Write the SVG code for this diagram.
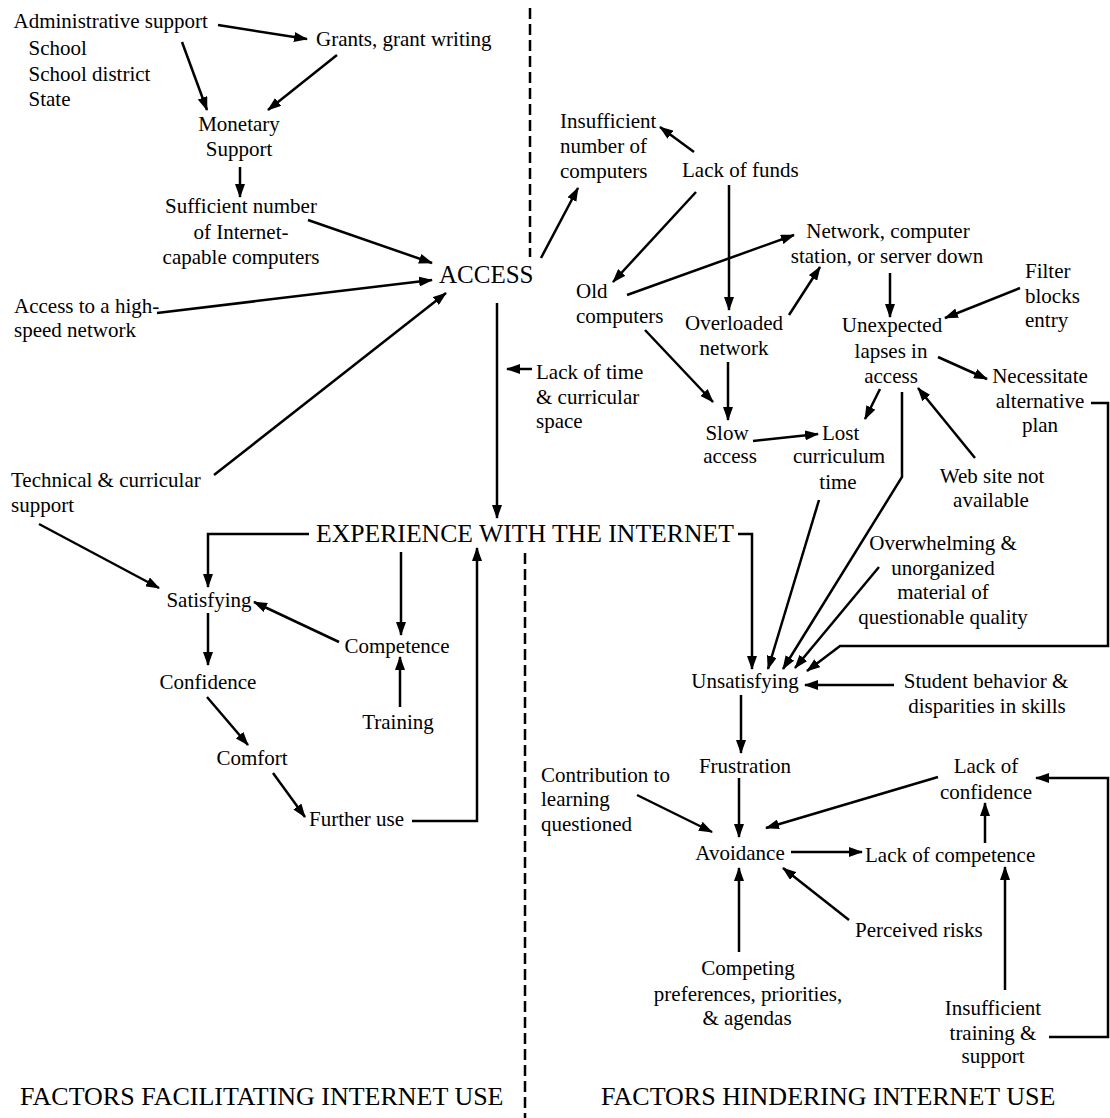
<svg xmlns="http://www.w3.org/2000/svg" width="1110" height="1118" viewBox="0 0 1110 1118">
<style>
text{font-family:"Liberation Serif","Times New Roman",serif;font-size:21px;fill:#000}
.big{font-size:26px}
.m{text-anchor:middle}
.c{fill:none;stroke:#000;stroke-width:2.5}
.d{fill:none;stroke:#000;stroke-width:2.5;stroke-dasharray:11 5}
</style>
<defs>
<marker id="ah" viewBox="0 0 14 10" refX="13" refY="5" markerWidth="14" markerHeight="10" markerUnits="userSpaceOnUse" orient="auto"><path d="M0,0 L14,5 L0,10 z" fill="#000"/></marker>
</defs>
<rect width="1110" height="1118" fill="#fff"/>
<g id="nodes">
<g id="n-admin"><text x="13.5" y="28">Administrative support</text><text x="28.5" y="55">School</text><text x="28.5" y="81">School district</text><text x="28.5" y="106">State</text></g>
<g id="n-grants"><text x="316" y="46">Grants, grant writing</text></g>
<g id="n-monetary"><text class="m" x="239" y="131">Monetary</text><text class="m" x="239" y="156">Support</text></g>
<g id="n-sufficient"><text class="m" x="241" y="213">Sufficient number</text><text class="m" x="241" y="239">of Internet-</text><text class="m" x="241" y="264">capable computers</text></g>
<g id="n-access"><text class="big" style="font-size:25px" x="439" y="283">ACCESS</text></g>
<g id="n-highspeed"><text x="14" y="313">Access to a high-</text><text x="14" y="337">speed network</text></g>
<g id="n-technical"><text x="11" y="487">Technical &amp; curricular</text><text x="11" y="512">support</text></g>
<g id="n-lacktime"><text x="536" y="379">Lack of time</text><text x="536" y="404">&amp; curricular</text><text x="536" y="428">space</text></g>
<g id="n-experience"><text class="big" style="font-size:25.7px" x="316" y="542">EXPERIENCE WITH THE INTERNET</text></g>
<g id="n-satisfying"><text class="m" x="209" y="607">Satisfying</text></g>
<g id="n-competence"><text class="m" x="397" y="653">Competence</text></g>
<g id="n-training"><text class="m" x="398" y="729">Training</text></g>
<g id="n-confidence"><text class="m" x="208" y="689">Confidence</text></g>
<g id="n-comfort"><text class="m" x="252" y="765">Comfort</text></g>
<g id="n-further"><text x="309" y="826">Further use</text></g>
<g id="n-insufficient"><text x="560" y="128">Insufficient</text><text x="560" y="153">number of</text><text x="560" y="178">computers</text></g>
<g id="n-lackfunds"><text x="682" y="177">Lack of funds</text></g>
<g id="n-old"><text x="576" y="298">Old</text><text x="576" y="323">computers</text></g>
<g id="n-network"><text class="m" x="888" y="238">Network, computer</text><text class="m" x="887" y="263">station, or server down</text></g>
<g id="n-overloaded"><text class="m" x="734" y="330">Overloaded</text><text class="m" x="734" y="355">network</text></g>
<g id="n-slow"><text class="m" x="727" y="440">Slow</text><text class="m" x="730" y="463">access</text></g>
<g id="n-lost"><text x="822" y="440">Lost</text><text class="m" x="839" y="463">curriculum</text><text class="m" x="838" y="489">time</text></g>
<g id="n-unexpected"><text class="m" x="892" y="332">Unexpected</text><text class="m" x="891" y="358">lapses in</text><text class="m" x="891" y="383">access</text></g>
<g id="n-filter"><text x="1025" y="278">Filter</text><text x="1025" y="303">blocks</text><text x="1025" y="327">entry</text></g>
<g id="n-necessitate"><text class="m" x="1040" y="383">Necessitate</text><text class="m" x="1040" y="408">alternative</text><text class="m" x="1040" y="432">plan</text></g>
<g id="n-website"><text class="m" x="992" y="483">Web site not</text><text class="m" x="991" y="507">available</text></g>
<g id="n-overwhelming"><text class="m" x="943" y="550">Overwhelming &amp;</text><text class="m" x="943" y="575">unorganized</text><text class="m" x="943" y="599">material of</text><text class="m" x="943" y="624">questionable quality</text></g>
<g id="n-unsatisfying"><text class="m" x="745" y="688">Unsatisfying</text></g>
<g id="n-student"><text class="m" x="986" y="688">Student behavior &amp;</text><text class="m" x="987" y="713">disparities in skills</text></g>
<g id="n-frustration"><text class="m" x="745" y="773">Frustration</text></g>
<g id="n-contribution"><text x="541" y="782">Contribution to</text><text x="541" y="806">learning</text><text x="541" y="831">questioned</text></g>
<g id="n-avoidance"><text class="m" x="740" y="860">Avoidance</text></g>
<g id="n-lackcompetence"><text x="865" y="862">Lack of competence</text></g>
<g id="n-lackconfidence"><text class="m" x="986" y="773">Lack of</text><text class="m" x="986" y="799">confidence</text></g>
<g id="n-perceived"><text x="855" y="937">Perceived risks</text></g>
<g id="n-competing"><text class="m" x="748" y="975">Competing</text><text class="m" x="748" y="1001">preferences, priorities,</text><text class="m" x="747" y="1025">&amp; agendas</text></g>
<g id="n-insuftraining"><text class="m" x="993" y="1015">Insufficient</text><text class="m" x="993" y="1040">training &amp;</text><text class="m" x="993" y="1063">support</text></g>
<g id="t-facilitating"><text class="big" x="20" y="1105">FACTORS FACILITATING INTERNET USE</text></g>
<g id="t-hindering"><text class="big" x="601" y="1105">FACTORS HINDERING INTERNET USE</text></g>
</g>
<g id="connectors">
<line class="d" x1="530" y1="8" x2="530" y2="257"/>
<line class="d" x1="525" y1="553" x2="525" y2="1118"/>
<line class="c" x1="218" y1="25" x2="307" y2="39" marker-end="url(#ah)"/>
<line class="c" x1="182" y1="42" x2="207" y2="110" marker-end="url(#ah)"/>
<line class="c" x1="337" y1="55" x2="268" y2="110" marker-end="url(#ah)"/>
<line class="c" x1="240" y1="167" x2="240" y2="197" marker-end="url(#ah)"/>
<line class="c" x1="308" y1="220" x2="432" y2="263" marker-end="url(#ah)"/>
<line class="c" x1="157" y1="313" x2="432" y2="280" marker-end="url(#ah)"/>
<line class="c" x1="214" y1="475" x2="446" y2="293" marker-end="url(#ah)"/>
<line class="c" x1="39" y1="524" x2="159" y2="588" marker-end="url(#ah)"/>
<line class="c" x1="497" y1="303" x2="497" y2="518" marker-end="url(#ah)"/>
<line class="c" x1="532" y1="369" x2="507" y2="369" marker-end="url(#ah)"/>
<line class="c" x1="541" y1="258" x2="578" y2="188" marker-end="url(#ah)"/>
<polyline class="c" points="309,534 208,534 208,587" marker-end="url(#ah)"/>
<line class="c" x1="401" y1="552" x2="401" y2="635" marker-end="url(#ah)"/>
<polyline class="c" points="412,821 477,821 477,548" marker-end="url(#ah)"/>
<polyline class="c" points="738,534 752,534 752,669" marker-end="url(#ah)"/>
<line class="c" x1="339" y1="642" x2="254" y2="602" marker-end="url(#ah)"/>
<line class="c" x1="400" y1="707" x2="400" y2="657" marker-end="url(#ah)"/>
<line class="c" x1="208" y1="613" x2="208" y2="665" marker-end="url(#ah)"/>
<line class="c" x1="207" y1="697" x2="248" y2="745" marker-end="url(#ah)"/>
<line class="c" x1="273" y1="773" x2="305" y2="817" marker-end="url(#ah)"/>
<line class="c" x1="694" y1="152" x2="660" y2="127" marker-end="url(#ah)"/>
<line class="c" x1="696" y1="192" x2="613" y2="282" marker-end="url(#ah)"/>
<line class="c" x1="729" y1="185" x2="729" y2="310" marker-end="url(#ah)"/>
<line class="c" x1="627" y1="295" x2="794" y2="235" marker-end="url(#ah)"/>
<line class="c" x1="789" y1="315" x2="820" y2="267" marker-end="url(#ah)"/>
<line class="c" x1="645" y1="330" x2="713" y2="402" marker-end="url(#ah)"/>
<line class="c" x1="728" y1="362" x2="728" y2="420" marker-end="url(#ah)"/>
<line class="c" x1="753" y1="441" x2="818" y2="434" marker-end="url(#ah)"/>
<line class="c" x1="890" y1="273" x2="890" y2="317" marker-end="url(#ah)"/>
<line class="c" x1="1020" y1="288" x2="945" y2="318" marker-end="url(#ah)"/>
<line class="c" x1="938" y1="357" x2="987" y2="379" marker-end="url(#ah)"/>
<line class="c" x1="880" y1="389" x2="865" y2="419" marker-end="url(#ah)"/>
<line class="c" x1="975" y1="458" x2="918" y2="388" marker-end="url(#ah)"/>
<polyline class="c" points="902,392 902,477 783,669" marker-end="url(#ah)"/>
<line class="c" x1="819" y1="500" x2="768" y2="669" marker-end="url(#ah)"/>
<line class="c" x1="879" y1="567" x2="795" y2="668" marker-end="url(#ah)"/>
<polyline class="c" points="1091,403 1108,403 1108,646 840,646 807,671" marker-end="url(#ah)"/>
<line class="c" x1="894" y1="685" x2="805" y2="685" marker-end="url(#ah)"/>
<line class="c" x1="741" y1="695" x2="741" y2="753" marker-end="url(#ah)"/>
<line class="c" x1="637" y1="795" x2="712" y2="832" marker-end="url(#ah)"/>
<line class="c" x1="739" y1="778" x2="739" y2="837" marker-end="url(#ah)"/>
<line class="c" x1="938" y1="777" x2="766" y2="828" marker-end="url(#ah)"/>
<line class="c" x1="791" y1="852" x2="862" y2="852" marker-end="url(#ah)"/>
<line class="c" x1="985" y1="843" x2="985" y2="803" marker-end="url(#ah)"/>
<polyline class="c" points="1049,1037 1108,1037 1108,778 1036,778" marker-end="url(#ah)"/>
<line class="c" x1="849" y1="920" x2="783" y2="868" marker-end="url(#ah)"/>
<line class="c" x1="739" y1="952" x2="739" y2="868" marker-end="url(#ah)"/>
<line class="c" x1="1005" y1="990" x2="1005" y2="867" marker-end="url(#ah)"/>
</g>
</svg>
